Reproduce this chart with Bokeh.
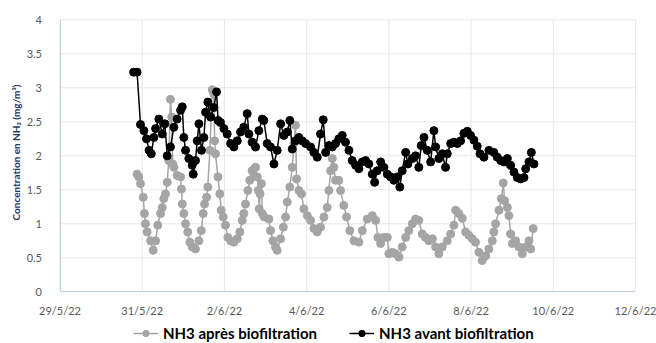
from bokeh.plotting import figure
from bokeh.models import Range1d, FixedTicker, NumeralTickFormatter, Legend, LegendItem, ColumnDataSource, Label
from bokeh.embed import file_html
from bokeh.resources import INLINE

# x axis: days since 29/5/22 00:00
x_tick_days = [0, 2, 4, 6, 8, 10, 12, 14]
x_tick_labels = ["29/5/22", "31/5/22", "2/6/22", "4/6/22", "6/6/22", "8/6/22", "10/6/22", "12/6/22"]
y_ticks = [0, 0.5, 1, 1.5, 2, 2.5, 3, 3.5, 4]

# NH3 avant biofiltration (hours since 29/5/22 00:00)
avant_hours = [43, 45, 47, 49, 50.5, 52, 53.3, 54.8, 55.8, 57.7, 59.7, 61.2, 62.6, 64.5, 66.5, 68.4, 70.4, 71.4,
               72.3, 73.3, 75.2, 77.2, 77.8, 79.1, 80.1, 81.1, 82.6, 84, 85, 86.3, 87.9, 89.8, 91.4, 92.3, 93.7,
               95.7, 97.6, 99.6, 101.5, 103.5, 105.4, 107.3, 109.3, 110.3, 112.2, 114.2, 116.1, 118.1, 119, 121,
               122.9, 124.9, 126.8, 128.8, 130.7, 132.7, 134.2, 135.6, 137.5, 139.5, 141.4, 143.4, 146.3, 148.2,
               150.2, 152.1, 153.7, 155.1, 157, 159, 160.9, 162.8, 164.8, 166.7, 168.7, 170.6, 172.6, 174.5,
               176.5, 178.4, 180.3, 182.3, 183.7, 185.2, 187.2, 189.1, 191.1, 193, 194.9, 196.9, 198.4, 199.8,
               201.8, 203.1, 205.7, 207.6, 209.5, 210.9, 212.5, 214.4, 216.4, 218.3, 219.3, 221.2, 223.2, 225.1,
               226.1, 228.1, 230, 232, 233.9, 235.8, 237.8, 239.7, 241.7, 243.6, 245.2, 247.5, 250.4, 253.3,
               255.3, 257.3, 259.2, 261.2, 263.1, 265, 267, 268.9, 270.9, 271.9, 273.8, 275.2, 276.7]
avant_values = [3.23, 3.23, 2.46, 2.37, 2.25, 2.08, 2.03, 2.27, 2.40, 2.54, 2.32, 2.47, 2.0, 2.13, 2.42, 2.54, 2.67, 2.72,
                2.27, 2.08, 1.96, 1.86, 1.73, 1.93, 2.22, 2.47, 2.08, 2.27, 2.64, 2.79, 2.57, 2.71, 2.94, 2.52, 2.49,
                2.40, 2.32, 2.18, 2.13, 2.22, 2.35, 2.42, 2.62, 2.32, 2.20, 2.13, 2.37, 2.54, 2.52, 2.18,
                2.13, 1.88, 2.08, 2.47, 2.30, 2.35, 2.52, 2.10, 2.22, 2.27, 2.22, 2.18, 2.13, 2.05,
                1.98, 2.32, 2.53, 2.05, 2.15, 2.13, 2.18, 2.25, 2.30, 2.20, 2.08, 1.93, 1.86, 1.81,
                1.91, 1.93, 1.88, 1.73, 1.61, 1.78, 1.91, 1.83, 1.73, 1.69, 1.64, 1.69, 1.54, 1.78,
                2.05, 1.88, 1.96, 2.0, 1.83, 2.15, 2.27, 2.08, 1.91, 2.37, 2.13, 1.96, 2.03, 1.83,
                2.03, 2.18, 2.20, 2.18, 2.22, 2.33, 2.36, 2.30, 2.23, 2.14, 2.03, 1.98, 2.08, 2.05,
                1.98, 1.93, 1.91, 1.96, 1.86, 1.76, 1.68, 1.66, 1.68, 1.81, 1.91, 2.05, 1.88]

# NH3 après biofiltration
apres_hours = [45, 46, 47, 48.6, 49.3, 49.9, 50.9, 52.9, 54.4, 55.8, 57.1, 58.7, 59.7, 60.6, 61.6, 62.6, 63.5, 64.5,
               65.2, 65.8, 66.5, 68.4, 70.4, 70.9, 71.4, 72.3, 73.3, 74.6, 75.8, 77.2, 79.1, 81.1, 82.5, 83.6,
               84.4, 85.6, 86.3, 87.5, 88.9, 89.8, 90.3, 90.8, 92.2, 93.3, 94.1, 95.3, 96.6, 98, 99.6, 101.5,
               103.5, 105, 106.4, 107.3, 108.3, 109.7, 110.8, 112.2, 113.2, 114.2, 115.2, 115.8, 116.3, 116.8,
               117.6, 118.1, 119.2, 122, 122.9, 124.3, 125.8, 126.8, 128.8, 130.4, 131.7, 132.7, 134.2, 135.6,
               136.6, 137.5, 138.1, 139.5, 141, 142.4, 144.4, 146.3, 148.2, 150.2, 152.1, 154.1, 156, 157, 158,
               159, 159.9, 160.9, 162.8, 163.8, 165.7, 167.3, 169.2, 171.6, 174.5, 176.5, 179.4, 182.3, 184.3,
               185.6, 187.2, 189.1, 191.1, 192, 194, 195.9, 197.9, 199.8, 201.8, 203.7, 205.7, 207.6, 209.5,
               211.5, 213.4, 215.4, 217.4, 219.3, 221.2, 223.2, 226.1, 228.1, 230, 231, 232.9, 234.9, 236.8,
               238.7, 240.7, 242.6, 244.6, 246.5, 248.5, 250.4, 252.4, 253.3, 254.3, 256.3, 257.7, 258.8, 259.6,
               261.2, 262.1, 263.1, 264.1, 266, 268, 269.9, 271.9, 273.8, 274.8, 276.3]
apres_values = [1.73, 1.69, 1.59, 1.39, 1.15, 1.0, 0.88, 0.75, 0.61, 0.75, 0.98, 1.15, 1.24, 1.37, 1.44, 1.61, 1.93, 2.83,
                2.57, 1.88, 1.83, 1.71, 1.69, 1.51, 1.29, 1.15, 1.0, 0.88, 0.73, 0.66, 0.63, 0.75, 0.90, 1.15,
                1.29, 1.39, 1.54, 2.08, 2.97, 2.91, 2.22, 2.03, 1.69, 1.44, 1.20, 1.10, 0.98, 0.80, 0.75, 0.73,
                0.78, 0.88, 1.05, 1.15, 1.29, 1.49, 1.64, 1.78, 1.70, 1.83, 1.69, 1.49, 1.22, 1.44,
                1.59, 1.15, 1.10, 1.07, 0.90, 0.75, 0.66, 0.61, 0.78, 0.95, 1.10, 1.32, 1.54, 1.83,
                2.18, 2.45, 1.66, 1.49, 1.44, 1.22, 1.12, 1.05, 0.93, 0.88, 0.95, 1.10, 1.24, 1.49, 1.78,
                1.96, 1.83, 1.64, 1.64, 1.49, 1.27, 1.10, 0.90, 0.75, 0.73, 0.90, 1.07, 1.12, 1.05,
                0.80, 0.71, 0.80, 0.80, 0.56, 0.58, 0.56, 0.51, 0.66, 0.80, 0.90, 1.0, 1.07, 1.05,
                0.85, 0.80, 0.75, 0.78, 0.66, 0.56, 0.66, 0.75, 0.85, 0.98, 1.20, 1.15, 1.08, 0.88,
                0.83, 0.78, 0.73, 0.58, 0.46, 0.53, 0.63, 0.75, 0.88, 1.0, 1.20, 1.37, 1.60, 1.34,
                1.24, 1.12, 0.85, 0.71, 0.75, 0.66, 0.56, 0.66, 0.75, 0.63, 0.93]

FONT = "Lato"
X0, X1 = x_tick_days[0], x_tick_days[-1]
Y0, Y1 = y_ticks[0], y_ticks[-1]

# Layout (pixels): the plotting band spans x 59.5..635 and y 19.3..291.3 of a 656x343 canvas.
W, H = 656, 343
LEFT, RIGHT, TOP, BOTTOM = 59.5, 635.0, 19.3, 291.3
px_x = (RIGHT - LEFT) / (X1 - X0)
px_y = (BOTTOM - TOP) / (Y1 - Y0)
x_range = Range1d(X0 - LEFT / px_x, X1 + (W - RIGHT) / px_x)
y_range = Range1d(Y0 - (H - BOTTOM) / px_y, Y1 + TOP / px_y)

p = figure(width=W, height=H, output_backend="svg", toolbar_location=None,
           x_range=x_range, y_range=y_range,
           min_border_left=0, min_border_right=0, min_border_top=0, min_border_bottom=0)
p.outline_line_color = None
p.background_fill_color = "white"
p.border_fill_color = "white"
p.xgrid.visible = False
p.ygrid.visible = False

GRID = "#E6E6EE"
# grid lines from the tick lists, limited to the plotting band
p.segment(x0=x_tick_days, y0=[Y0] * len(x_tick_days), x1=x_tick_days, y1=[Y1] * len(x_tick_days),
          line_color=GRID, line_width=1)
p.segment(x0=[X0] * len(y_ticks), y0=y_ticks, x1=[X1] * len(y_ticks), y1=y_ticks,
          line_color=GRID, line_width=1)

src_apres = ColumnDataSource(dict(x=[h / 24 for h in apres_hours], y=apres_values))
src_avant = ColumnDataSource(dict(x=[h / 24 for h in avant_hours], y=avant_values))

grey = "#A5A5A5"
l1 = p.line("x", "y", source=src_apres, line_color=grey, line_width=1.5)
s1 = p.scatter("x", "y", source=src_apres, size=8, fill_color=grey, line_color=grey)
l2 = p.line("x", "y", source=src_avant, line_color="black", line_width=1.5)
s2 = p.scatter("x", "y", source=src_avant, size=8, fill_color="black", line_color="black")

# axes, pinned to the data origin
p.xaxis.ticker = FixedTicker(ticks=x_tick_days)
p.xaxis.major_label_overrides = {d: lab for d, lab in zip(x_tick_days, x_tick_labels)}
p.xaxis.fixed_location = Y0
p.xaxis.bounds = (X0, X1)
p.yaxis.ticker = FixedTicker(ticks=y_ticks)
p.yaxis.formatter = NumeralTickFormatter(format="0.[0]")
p.yaxis.fixed_location = X0
p.yaxis.bounds = (Y0, Y1)
for ax in (p.xaxis, p.yaxis):
    ax.major_tick_line_color = None
    ax.minor_tick_line_color = None
    ax.axis_line_color = "#BFD0E3"
    ax.axis_line_width = 1
    ax.major_label_text_color = "#595959"
    ax.major_label_text_font = FONT
    ax.major_label_text_font_size = "11px"
p.xaxis.major_label_standoff = 6
p.yaxis.major_label_standoff = 12

ylabel = Label(x=15, y=H - 152, x_units="screen", y_units="screen",
               text="Concentration en NH\u2083 (mg/m\u00b3)", angle=90, angle_units="deg",
               text_align="center", text_baseline="middle",
               text_font=FONT, text_font_size="10px", text_font_style="bold", text_color="#1F3864")
p.add_layout(ylabel)

legend = Legend(items=[LegendItem(label="NH3 après biofiltration", renderers=[l1, s1]),
                       LegendItem(label="NH3 avant biofiltration", renderers=[l2, s2])],
                location=(133, 1), orientation="horizontal",
                label_text_font=FONT, label_text_font_size="15px", label_text_font_style="bold",
                label_text_color="black", glyph_width=25, glyph_height=16, label_height=16,
                label_standoff=5, spacing=32, padding=0, margin=0,
                border_line_color=None, background_fill_alpha=0)
p.add_layout(legend, "center")

open("out.html", "w").write(file_html(p, INLINE))
